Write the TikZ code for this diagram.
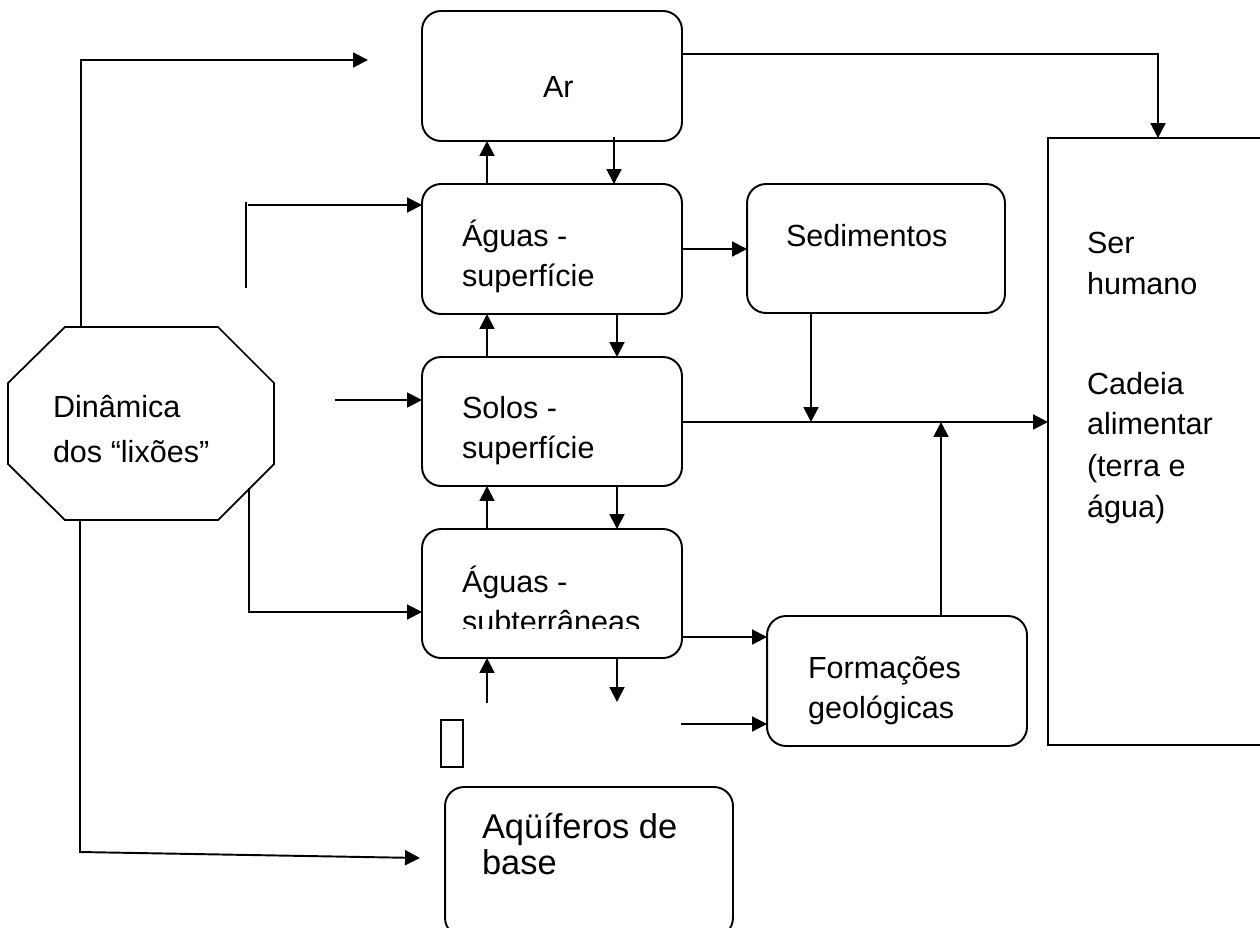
\documentclass[tikz,border=0pt]{standalone}
\usepackage{fontspec}
\setmainfont{Liberation Sans}
\usetikzlibrary{arrows.meta}
\begin{document}
\begin{tikzpicture}[x=0.02cm,y=-0.02cm,
  every node/.style={inner sep=0pt, outer sep=0pt},
  rbox/.style={draw, line width=1.1pt, rounded corners=0.38cm},
  sbox/.style={draw, line width=1.1pt},
  lbl/.style={anchor=base west, font=\fontsize{17.4}{22}\selectfont},
  biglbl/.style={anchor=base west, font=\fontsize{19.6}{24}\selectfont},
  conn/.style={line width=1.1pt},
  arr/.style={conn, -{Triangle[length=8.5pt,width=8.5pt]}},
]
\useasboundingbox (0,0) rectangle (1260,927);

% boxes
\node[rbox, minimum width=5.2cm,  minimum height=2.6cm]  (ar)   at (552,76)    {};
\node[rbox, minimum width=5.2cm,  minimum height=2.6cm]  (asup) at (552,249)   {};
\node[rbox, minimum width=5.2cm,  minimum height=2.58cm] (solo) at (552,421.5) {};
\node[rbox, minimum width=5.2cm,  minimum height=2.58cm] (asub) at (552,593.5) {};
\node[rbox, minimum width=5.16cm, minimum height=2.58cm] (sed)  at (876,248.5) {};
\node[rbox, minimum width=5.2cm,  minimum height=2.6cm]  (form) at (897,681)   {};
\node[rbox, minimum width=5.76cm, minimum height=3.0cm]  (aqui) at (589,862)   {};
\node[sbox, minimum width=5.04cm, minimum height=12.14cm] (ser) at (1174,441.5) {};
\node[sbox, minimum width=0.44cm, minimum height=0.94cm] (blank) at (452,743.5) {};

% octagon
\coordinate (o1) at (65,327);  \coordinate (o2) at (218,327);
\coordinate (o3) at (274,383); \coordinate (o4) at (274,464);
\coordinate (o5) at (218,520); \coordinate (o6) at (65,520);
\coordinate (o7) at (8,464);   \coordinate (o8) at (8,383);
\draw[line width=1pt] (o1) -- (o2) -- (o3) -- (o4) -- (o5) -- (o6) -- (o7) -- (o8) -- cycle;

% labels
\node[lbl] (tar)  at (543,97)  {Ar};
\node[lbl] (t1a)  at (462,246) {Águas -};
\node[lbl] (t1b)  at (462,286) {superfície};
\node[lbl] (t2a)  at (462,418) {Solos -};
\node[lbl] (t2b)  at (462,458) {superfície};
\node[lbl] (t3a)  at (462,592) {Águas -};
\begin{scope}
  \clip (422,600) rectangle (682,628);
  \node[lbl] (t3b) at (462,632) {subterrâneas};
\end{scope}
\node[lbl] (tsed) at (786,246) {Sedimentos};
\node[lbl] (tfa)  at (808,678) {Formações};
\node[lbl] (tfb)  at (808,718) {geológicas};
\node[biglbl] (tqa) at (482,838) {Aqüíferos de};
\node[biglbl] (tqb) at (482,874) {base};
\node[lbl] (tsa)  at (1087,253) {Ser};
\node[lbl] (tsb)  at (1087,294) {humano};
\node[lbl] (tsc)  at (1087,394) {Cadeia};
\node[lbl] (tsd)  at (1087,434) {alimentar};
\node[lbl] (tse)  at (1087,476) {(terra e};
\node[lbl] (tsf)  at (1087,517) {água)};
\node[lbl] (toa)  at (53,417)  {Dinâmica};
\node[lbl] (tob)  at (53,462)  {dos “lixões”};

% helper columns and rows
\coordinate (cU)  at (487,0);
\coordinate (cD1) at (614,0);
\coordinate (cD)  at (617,0);
\coordinate (cS)  at (1158,0);
\coordinate (r0)  at (0,54);
\coordinate (r1)  at (0,249);
\coordinate (r2)  at (0,422);
\coordinate (r3)  at (0,637);
\coordinate (r4)  at (0,612);

% vertical exchanges between the central boxes
\draw[arr] (asup.north -| cU) -- (ar.south -| cU);
\draw[arr] (ar.south -| cD1) ++(0,-4) -- (asup.north -| cD1);
\draw[arr] (solo.north -| cU) -- (asup.south -| cU);
\draw[arr] (asup.south -| cD) -- (solo.north -| cD);
\draw[arr] (asub.north -| cU) -- (solo.south -| cU);
\draw[arr] (solo.south -| cD) -- (asub.north -| cD);
\coordinate (upfoot)   at (487,703);
\coordinate (downfoot) at (617,702);
\draw[arr] (upfoot) -- (asub.south -| upfoot);
\draw[arr] (asub.south -| downfoot) -- (downfoot);

% horizontal flows
\draw[arr] (ar.east |- r0) -| (ser.north -| cS);
\draw[arr] (asup.east |- r1) -- (sed.west |- r1);
\draw[arr] (solo.east |- r2) -- (ser.west |- r2);
\coordinate (jS) at (811,422);
\coordinate (jF) at (941,422);
\draw[arr] (sed.south -| jS) -- (jS);
\draw[arr] (form.north -| jF) -- (jF);
\draw[arr] (asub.east |- r3) -- (form.west |- r3);
\coordinate (f1) at (681,724);
\draw[arr] (f1) -- (form.west |- f1);

% flows leaving the octagon
\coordinate (otop)    at (81,327);
\coordinate (airtip)  at (368,60);
\draw[arr] (otop) |- (airtip);
\coordinate (obot)    at (80,520);
\coordinate (obend)   at (80,852);
\coordinate (aquitip) at (420,858);
\draw[arr] (obot) -- (obend) -- (aquitip);
\coordinate (oright)  at (249,488);
\draw[arr] (oright) |- (asub.west |- r4);

% loose strokes on the left
\coordinate (v1) at (246,202);
\coordinate (v2) at (246,288);
\draw[conn] (v1) -- (v2);
\coordinate (h1) at (248,205);
\draw[arr] (h1) -- (asup.west |- h1);
\coordinate (h2) at (335,400);
\draw[arr] (h2) -- (solo.west |- h2);
\end{tikzpicture}
\end{document}
